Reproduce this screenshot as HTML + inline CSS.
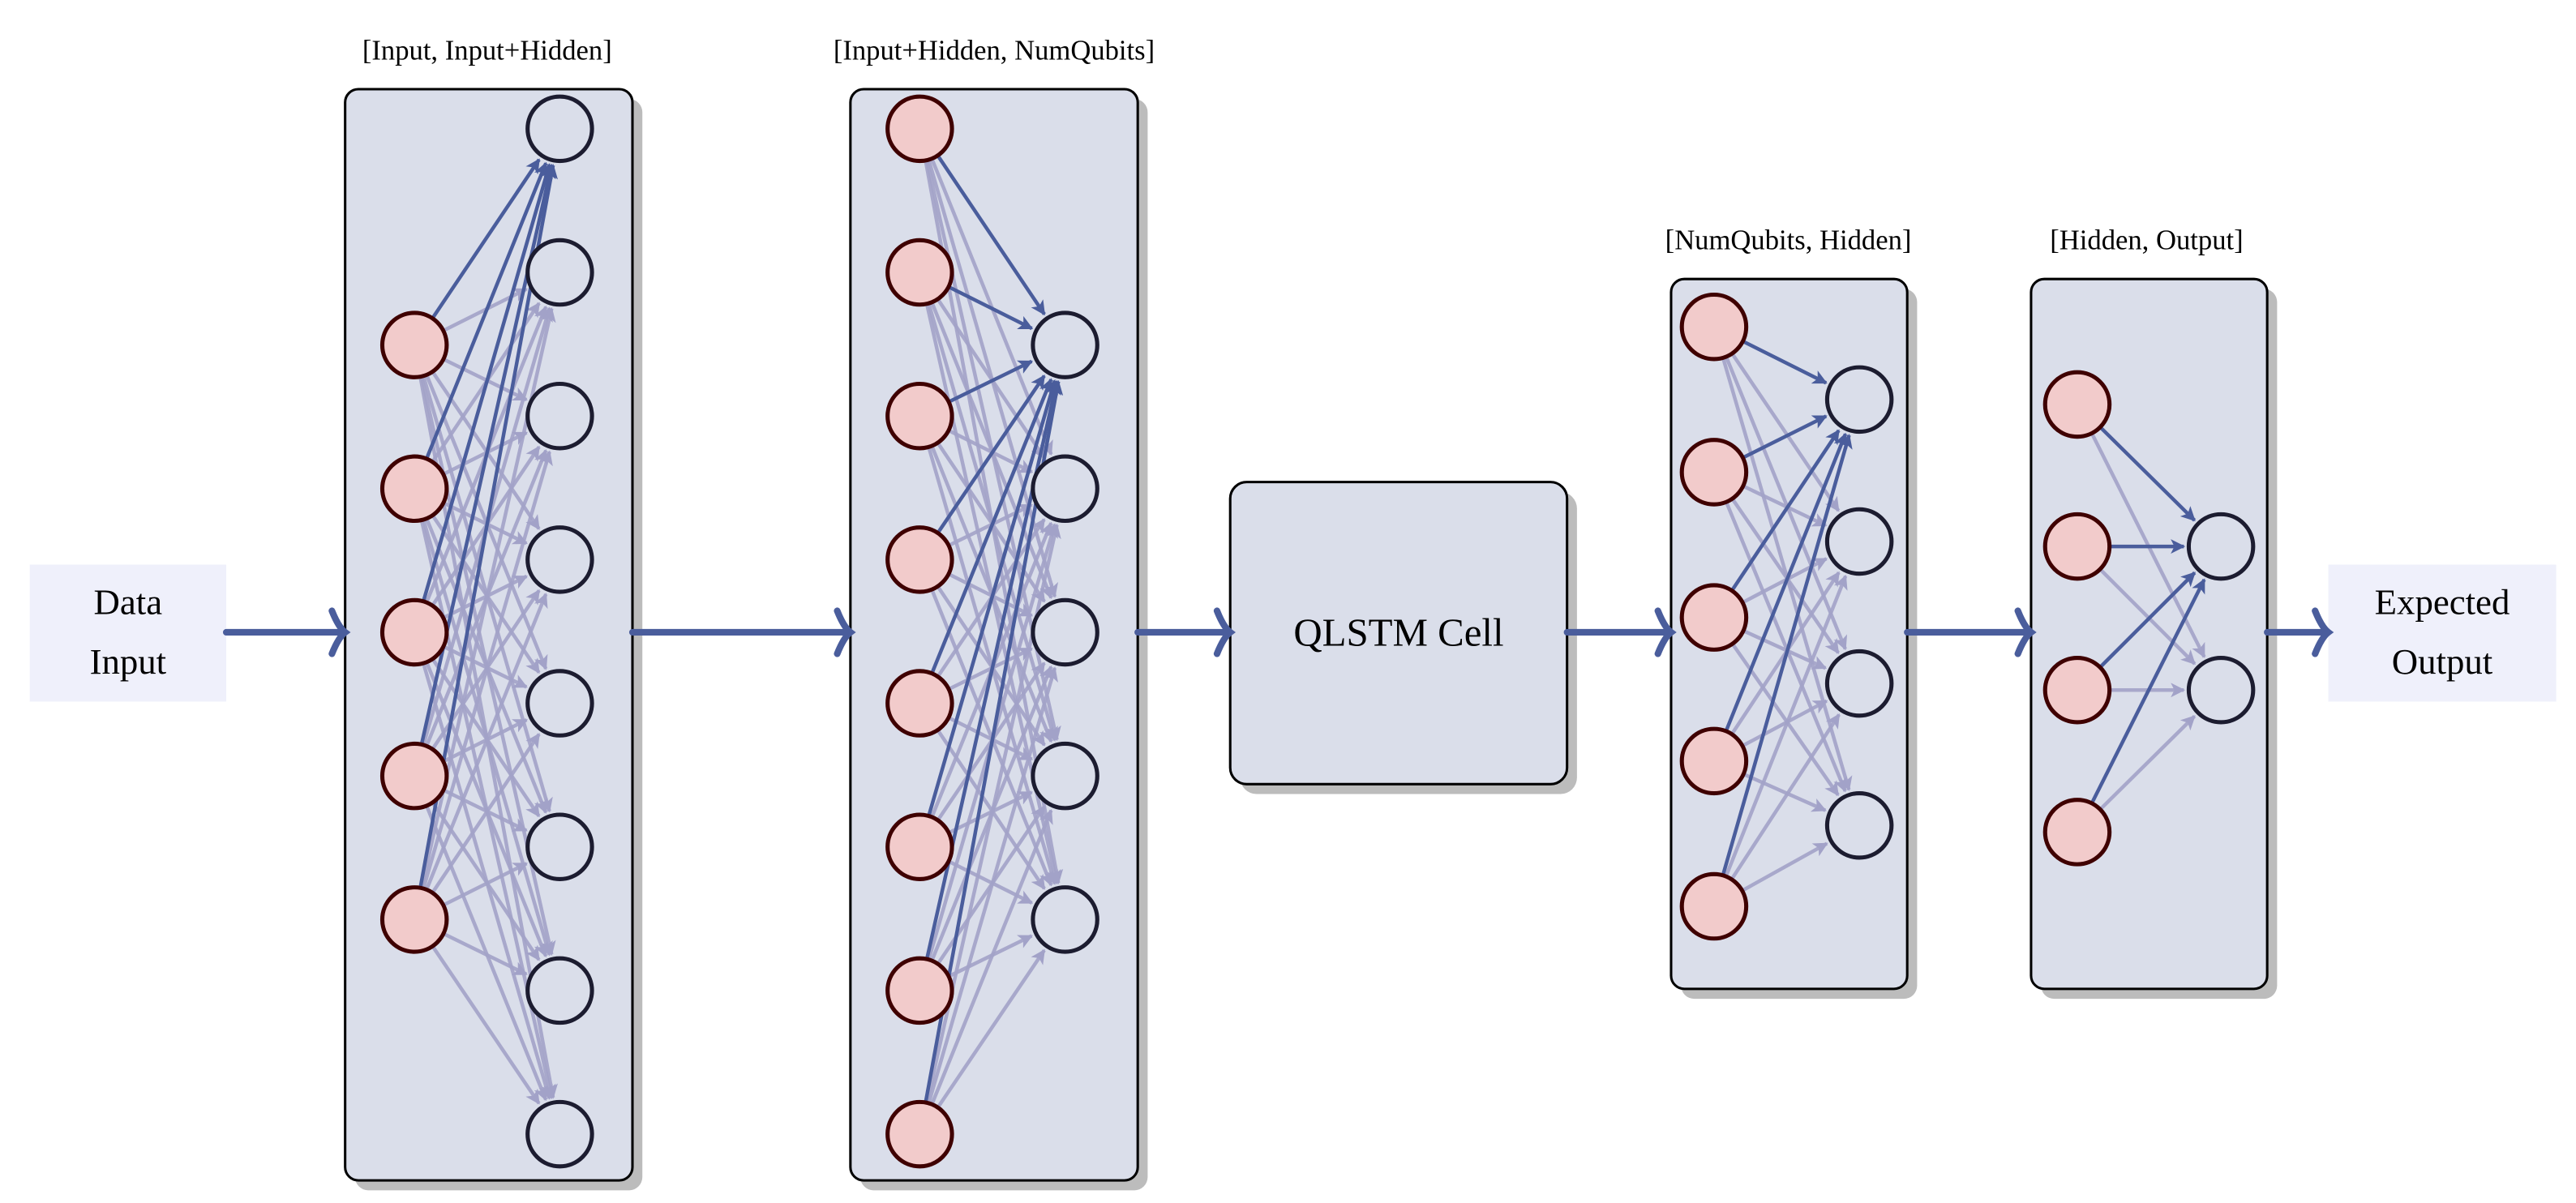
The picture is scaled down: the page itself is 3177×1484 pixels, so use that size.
<!DOCTYPE html>
<html><head><meta charset="utf-8"><style>
html,body{margin:0;padding:0;background:#fff;}
svg{display:block;}
text{font-family:"Liberation Serif",serif;fill:#000;}
</style></head><body>
<svg id="s" width="3177" height="1484" viewBox="0 0 1560 728.7" xmlns="http://www.w3.org/2000/svg">
<defs>
<marker id="ml" viewBox="0 0 10 10" refX="9" refY="5" markerWidth="4" markerHeight="4" orient="auto" markerUnits="strokeWidth"><path d="M0,0 L10,5 L0,10 L2.5,5 Z" fill="#a2a2c8"/></marker>
<marker id="md" viewBox="0 0 10 10" refX="9" refY="5" markerWidth="4" markerHeight="4" orient="auto" markerUnits="strokeWidth"><path d="M0,0 L10,5 L0,10 L2.5,5 Z" fill="#4a5d9c"/></marker>
</defs>
<g id="boxes">
<rect x="215" y="60" width="174" height="661" rx="8" fill="#bcbcbc"/>
<rect x="209" y="54" width="174" height="661" rx="8" fill="#dadeea" stroke="#000" stroke-width="1.5"/>
<rect x="521" y="60" width="174" height="661" rx="8" fill="#bcbcbc"/>
<rect x="515" y="54" width="174" height="661" rx="8" fill="#dadeea" stroke="#000" stroke-width="1.5"/>
<rect x="751" y="298" width="204" height="183" rx="10" fill="#bcbcbc"/>
<rect x="745" y="292" width="204" height="183" rx="10" fill="#dadeea" stroke="#000" stroke-width="1.5"/>
<rect x="1018" y="175" width="143" height="430" rx="8" fill="#bcbcbc"/>
<rect x="1012" y="169" width="143" height="430" rx="8" fill="#dadeea" stroke="#000" stroke-width="1.5"/>
<rect x="1236" y="175" width="143" height="430" rx="8" fill="#bcbcbc"/>
<rect x="1230" y="169" width="143" height="430" rx="8" fill="#dadeea" stroke="#000" stroke-width="1.5"/>
<rect x="18" y="342" width="119" height="83" fill="#eff0fb"/>
<rect x="1410" y="342" width="138" height="83" fill="#eff0fb"/>
</g>
<g id="edges"></g>
<g id="nodes"></g>
<g id="big" stroke="#4a5d9c" stroke-width="4" fill="none" stroke-linecap="round"></g>
<text x="77.5" y="372" font-size="22" text-anchor="middle">Data</text>
<text x="77.5" y="408" font-size="22" text-anchor="middle">Input</text>
<text x="1479" y="372" font-size="22" text-anchor="middle">Expected</text>
<text x="1479" y="408" font-size="22" text-anchor="middle">Output</text>
<text x="847" y="391" font-size="24" text-anchor="middle">QLSTM Cell</text>
<text x="295" y="36" font-size="17" text-anchor="middle">[Input, Input+Hidden]</text>
<text x="602" y="36" font-size="17" text-anchor="middle">[Input+Hidden, NumQubits]</text>
<text x="1083" y="151" font-size="17" text-anchor="middle">[NumQubits, Hidden]</text>
<text x="1300" y="151" font-size="17" text-anchor="middle">[Hidden, Output]</text>
</svg>
<script>
var NS="http://www.w3.org/2000/svg";
function el(t,a,p){var e=document.createElementNS(NS,t);for(var k in a)e.setAttribute(k,a[k]);p.appendChild(e);return e;}
var E=document.getElementById("edges"),N=document.getElementById("nodes"),B=document.getElementById("big");
var R=19.5;
var layers=[
 {ix:251,iy:[209,296,383,470,557],ox:339,oy:[78,165,252,339,426,513,600,687]},
 {ix:557,iy:[78,165,252,339,426,513,600,687],ox:645,oy:[209,296,383,470,557]},
 {ix:1038,iy:[198,286,374,461,549],ox:1126,oy:[242,328,414,500]},
 {ix:1258,iy:[245,331,418,504],ox:1345,oy:[331,418]}
];
function edge(x1,y1,x2,y2,dark){
 var dx=x2-x1,dy=y2-y1,d=Math.sqrt(dx*dx+dy*dy),ux=dx/d,uy=dy/d;
 el("line",{x1:x1+ux*(R+1),y1:y1+uy*(R+1),x2:x2-ux*(R+3),y2:y2-uy*(R+3),
  stroke:dark?"#4a5d9c":"#a2a2c8","stroke-width":2.2,"stroke-opacity":dark?1:0.9,
  "marker-end":dark?"url(#md)":"url(#ml)"},E);
}
layers.forEach(function(L){
 for(var j=1;j<L.oy.length;j++)L.iy.forEach(function(y){edge(L.ix,y,L.ox,L.oy[j],false);});
 L.iy.forEach(function(y){edge(L.ix,y,L.ox,L.oy[0],true);});
 L.iy.forEach(function(y){el("circle",{cx:L.ix,cy:y,r:R,fill:"#f2cbcb",stroke:"#3f0000","stroke-width":2.5},N);});
 L.oy.forEach(function(y){el("circle",{cx:L.ox,cy:y,r:R,fill:"#dadeea",stroke:"#1c1c30","stroke-width":2.5},N);});
});
function big(x1,x2,y){
 el("line",{x1:x1,y1:y,x2:x2-3,y2:y},B);
 el("path",{d:"M"+(x2-8)+","+(y-13)+" Q"+(x2-4)+","+(y-3)+" "+x2+","+y+" Q"+(x2-4)+","+(y+3)+" "+(x2-8)+","+(y+13)},B);
}
big(137,209,383);big(383,515,383);big(689,745,383);big(949,1012,383);big(1155,1230,383);big(1373,1410,383);
</script>
</body></html>
